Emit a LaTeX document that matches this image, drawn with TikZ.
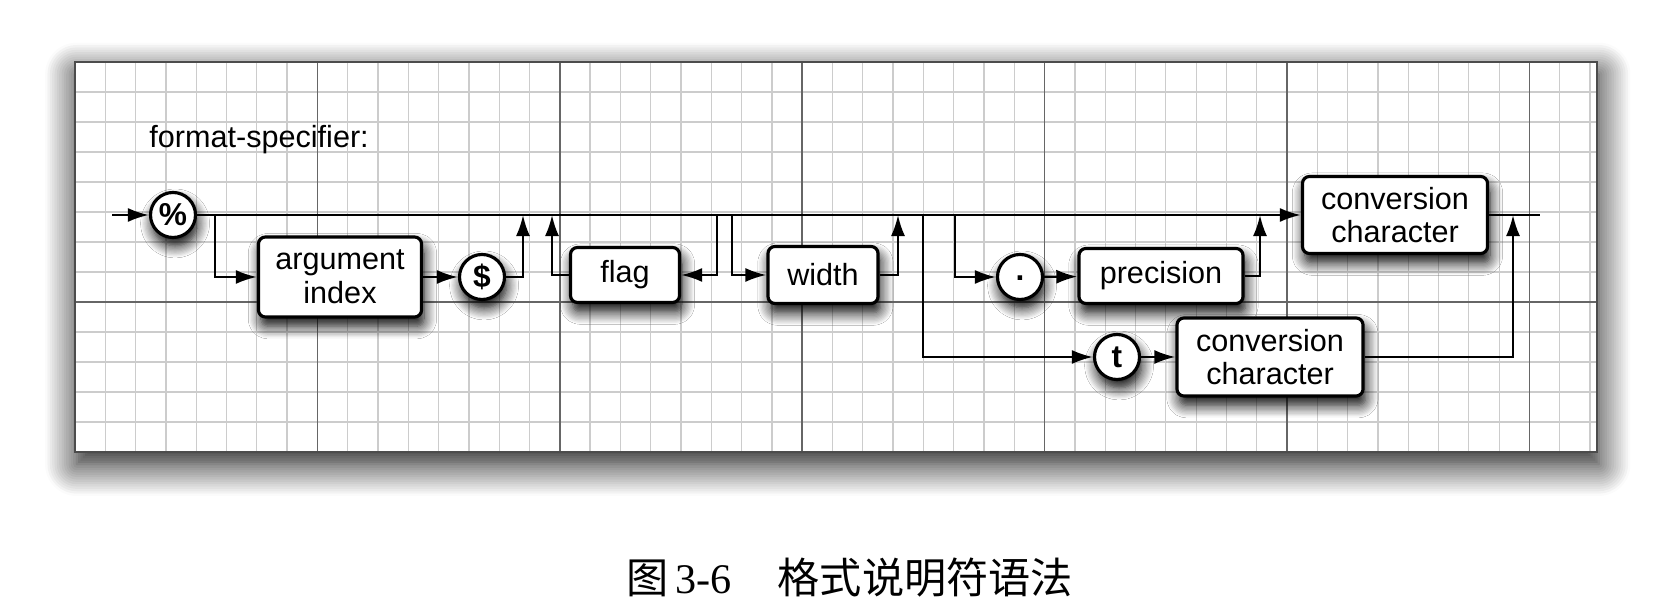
\documentclass[tikz,border=0pt]{standalone}
\usepackage{fontspec}
\setmainfont{Liberation Sans}
\newfontfamily\capfont{Liberation Serif}
\newfontfamily\cjk{Noto Sans CJK SC}
\usetikzlibrary{positioning, arrows.meta, shadows.blur}

\begin{document}
\begin{tikzpicture}[
  x=0.01cm, y=-0.01cm,
  box/.style={rectangle, draw, line width=0.9pt, rounded corners=2pt, fill=white, align=center, inner sep=0pt, font=\fontsize{8.7}{9.6}\selectfont,
    blur shadow={shadow xshift=0.7pt, shadow yshift=-2.6pt, shadow blur radius=3.6pt, shadow blur steps=10, shadow opacity=100}},
  term/.style={circle, draw, line width=0.9pt, fill=white, minimum size=0.45cm, inner sep=0pt, font=\fontsize{9}{9}\selectfont\bfseries,
    blur shadow={shadow xshift=0.6pt, shadow yshift=-2.4pt, shadow blur radius=3.4pt, shadow blur steps=10, shadow opacity=100}},
  arr/.style={-{Latex[length=6pt, width=4pt, fill=black]}, line width=0.65pt},
  wire/.style={line width=0.65pt},
  minor/.style={gray!40, line width=0.35pt},
  major/.style={black!60, line width=0.5pt}
]
\useasboundingbox (0,0) rectangle (1673,604);

% grid sheet
\path[fill=white, blur shadow={shadow xshift=0.5pt, shadow yshift=-3.5pt, shadow blur radius=9pt, shadow blur steps=14, shadow opacity=95}] (75,62) rectangle (1597,452);
\foreach \i in {1,...,50} \draw[minor] ({75+\i*30.3},62) -- ++(0,390);
\foreach \j in {1,...,12} \draw[minor] (75,{62+\j*30}) -- (1597,{62+\j*30});
\foreach \i in {8,16,...,48} \draw[major] ({75+\i*30.3},62) -- ++(0,390);
\draw[major] (75,302) -- (1597,302);
\draw[black!70, line width=0.5pt] (75,62) rectangle (1597,452);

\node[anchor=base west, font=\fontsize{8.7}{9.6}\selectfont] (title) at (137,148) {format-specifier:};

% syntax elements
\node[term] (pct) at (173,215) {\%};
\node[box, minimum width=1.63cm, minimum height=0.8cm] (argidx) at (340,277) {argument\\index};
\node[term] (dollar) at (482,277) {\$};
\node[box, minimum width=1.09cm, minimum height=0.55cm] (flag) at (625,275) {flag};
\node[box, minimum width=1.1cm, minimum height=0.57cm] (wid) at (823,275) {width};
\node[term] (dot) at (1020,277) {\raisebox{-2pt}{.}};
\node[box, minimum width=1.64cm, minimum height=0.55cm] (prec) at (1161,276) {precision};
\node[box, minimum width=1.85cm, minimum height=0.77cm] (conv) at (1395,215) {conversion\\character};
\node[term] (tchar) at (1117,357) {t};
\node[box, minimum width=1.86cm, minimum height=0.78cm] (tconv) at (1270,357) {conversion\\character};

% junctions on the main line
\coordinate (start) at (112,215);
\coordinate (finish) at (1540,215);
\coordinate (b1) at (215,215);
\coordinate (j1) at (523,215);
\coordinate (j2) at (552,215);
\coordinate (b2) at (717,215);
\coordinate (b3) at (732,215);
\coordinate (j3) at (898,215);
\coordinate (b4) at (923,215);
\coordinate (b5) at (955,215);
\coordinate (j4) at (1260,215);
\coordinate (j5) at (1513,215);

\draw[arr] (start) -- (pct);
\draw[arr] (pct) -- (conv);
\draw[wire] (conv) -- (finish);
\draw[arr] (b1) |- (argidx);
\draw[arr] (argidx) -- (dollar);
\draw[arr] (dollar) -| (j1);
\draw[arr] (flag) -| (j2);
\draw[arr] (b2) |- (flag);
\draw[arr] (b3) |- (wid);
\draw[arr] (wid) -| (j3);
\draw[arr] (b4) |- (tchar);
\draw[arr] (b5) |- (dot);
\draw[arr] (dot) -- (prec);
\draw[arr] (prec) -| (j4);
\draw[arr] (tchar) -- (tconv);
\draw[arr] (tconv) -| (j5);

\node[anchor=west, font=\fontsize{12}{14}\selectfont] (caption) at (614,578) {{\cjk 图}\,{\capfont 3-6}\hspace{13pt}{\cjk 格式说明符语法}};
\end{tikzpicture}
\end{document}
